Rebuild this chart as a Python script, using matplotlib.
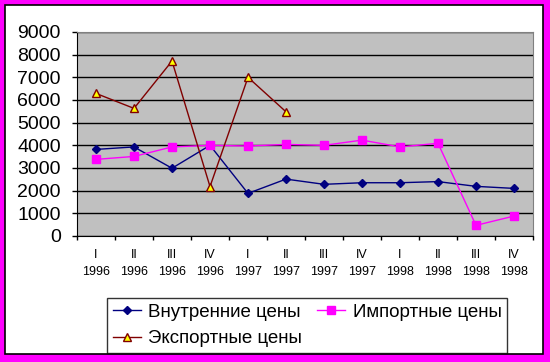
import numpy as np
import matplotlib

matplotlib.use("Agg")
import matplotlib.pyplot as plt
from matplotlib.patches import Rectangle

plt.rcParams["font.family"] = ["Liberation Sans", "DejaVu Sans"]

quarters = ["I", "II", "III", "IV", "I", "II", "III", "IV", "I", "II", "III", "IV"]
years = ["1996"] * 4 + ["1997"] * 4 + ["1998"] * 4
internal = [3820, 3930, 2990, 4000, 1880, 2510, 2280, 2350, 2350, 2400, 2190, 2100]
imported = [3380, 3510, 3930, 4000, 3970, 4040, 4000, 4230, 3930, 4090, 470, 880]
exported = [6290, 5630, 7720, 2180, 7000, 5480]

fig = plt.figure(figsize=(5.5, 3.62), dpi=100)
fig.patch.set_facecolor("#ff00ff")
fig.patches.append(
    Rectangle((5 / 550, 8 / 362), 538 / 550, 349 / 362, transform=fig.transFigure,
              facecolor="white", edgecolor="black", linewidth=1.2, zorder=-1)
)

ax = fig.add_axes([77 / 550, 126 / 362, 456 / 550, 204 / 362])
ax.set_facecolor("#c0c0c0")
x = np.arange(len(quarters))

l_int, = ax.plot(x, internal, color="#000080", lw=1, marker="D", ms=4.5,
                 mfc="#000080", mec="#000080", label="Внутренние цены", zorder=3)
l_imp, = ax.plot(x, imported, color="#ff00ff", lw=1, marker="s", ms=6,
                 mfc="#ff00ff", mec="#ff00ff", label="Импортные цены", zorder=3)
l_exp, = ax.plot(x[:len(exported)], exported, color="#800000", lw=1, marker="^", ms=6,
                 mfc="#ffff00", mec="#800000", label="Экспортные цены", zorder=3)

ax.set_xlim(-0.5, len(quarters) - 0.5)
ax.set_ylim(0, 9000)
ax.set_yticks(range(0, 9001, 1000))
ax.yaxis.grid(True, color="black", lw=1)
ax.set_axisbelow(True)
ax.tick_params(axis="y", labelsize=14, length=3.6, width=1, pad=8, direction="out")

ax.set_xticks(x)
ax.set_xticklabels([f"{q}\n{y}" for q, y in zip(quarters, years)],
                   fontsize=9, linespacing=1.6)
ax.set_xticks(np.arange(-0.5, len(quarters)), minor=True)
ax.tick_params(axis="x", which="major", length=0, pad=9)
ax.tick_params(axis="x", which="minor", length=3, width=1, direction="out")

for side in ("top", "right"):
    ax.spines[side].set_color("#808080")
ax.spines["left"].set_color("black")
ax.spines["bottom"].set_color("black")

# matplotlib fills legend columns first, so order the handles for row layout
handles = [l_int, l_exp, l_imp]
leg = fig.legend(handles, [h.get_label() for h in handles],
                 loc="lower left", bbox_to_anchor=(107 / 550, 9 / 362),
                 ncol=2, fontsize=13.5, frameon=True, fancybox=False,
                 edgecolor="black", handlelength=1.5, borderpad=0.3,
                 labelspacing=0.5, columnspacing=0.8, handletextpad=0.4,
                 borderaxespad=0)
leg.get_frame().set_linewidth(1)

fig.savefig("out.png", dpi=100, facecolor=fig.get_facecolor())
